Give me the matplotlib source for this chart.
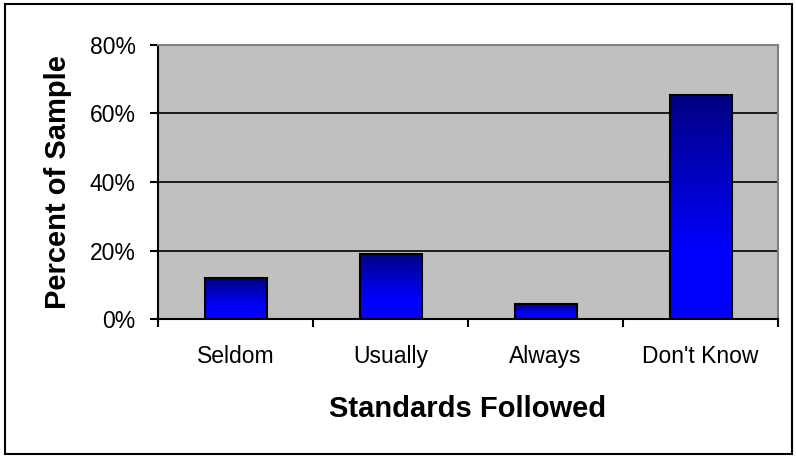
import matplotlib.pyplot as plt
import numpy as np
from matplotlib.patches import Rectangle
from matplotlib.colors import LinearSegmentedColormap

categories = ['Seldom', 'Usually', 'Always', "Don't Know"]
percent = [12, 19, 4.4, 65.5]
y_ticks = [0, 20, 40, 60, 80]
y_labels = ['0%', '20%', '40%', '60%', '80%']

plt.rcParams['font.family'] = ['Liberation Sans', 'DejaVu Sans']

W, H = 796, 457
fig = plt.figure(figsize=(W / 100, H / 100), dpi=100, facecolor='white')
# plot area in pixels: left 158, right 778, top 45, bottom 319
ax = fig.add_axes([158 / W, 1 - 319 / H, (778 - 158) / W, (319 - 45) / H])
ax.set_facecolor('#c0c0c0')

# outer chart border
fig.patches.append(Rectangle((5 / W, 3 / H), (792 - 5) / W, (453 - 3) / H,
                             transform=fig.transFigure, fill=False,
                             edgecolor='black', linewidth=1.5, zorder=0))

x = np.arange(len(categories))
width = 0.4
cmap = LinearSegmentedColormap.from_list('navy_blue', [(0, '#0000ff'), (0.3, '#0000ff'), (1, '#000080')])
grad = np.linspace(0, 1, 256).reshape(-1, 1)

bars = ax.bar(x, percent, width=width, color='none', edgecolor='black', linewidth=1.5, zorder=3)
for b in bars:
    x0, y0 = b.get_x(), b.get_y()
    w, h = b.get_width(), b.get_height()
    ax.imshow(grad, cmap=cmap, aspect='auto', origin='lower',
              extent=[x0, x0 + w, y0, y0 + h], zorder=2, interpolation='bilinear')

ax.set_xlim(-0.5, len(categories) - 0.5)
ax.set_ylim(0, 80)
ax.set_yticks(y_ticks)
ax.set_yticklabels(y_labels, fontsize=16.5)
ax.yaxis.grid(True, color='black', linewidth=1.2)
ax.set_axisbelow(True)

ax.set_xticks(x)
ax.set_xticklabels(categories, fontsize=16.5)
ax.tick_params(axis='x', length=0, pad=19)
ax.set_xticks(np.arange(-0.5, len(categories)), minor=True)
ax.tick_params(axis='x', which='minor', length=6, width=1.5, direction='out')
ax.tick_params(axis='y', length=6, width=1.5, direction='out', pad=10)

for side in ['top', 'right']:
    ax.spines[side].set_color('#808080')
    ax.spines[side].set_linewidth(1.5)
for side in ['left', 'bottom']:
    ax.spines[side].set_color('black')
    ax.spines[side].set_linewidth(1.5)

ax.set_xlabel('Standards Followed', fontsize=21, fontweight='bold', labelpad=19)
ax.set_ylabel('Percent of Sample', fontsize=21, fontweight='bold', labelpad=13)

fig.savefig('out.png', dpi=100, facecolor='white')
